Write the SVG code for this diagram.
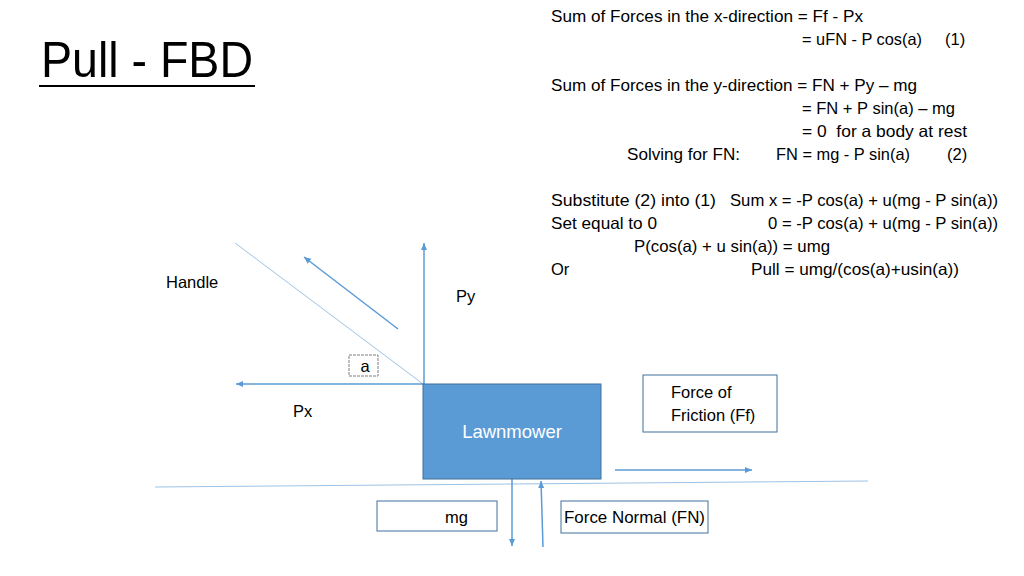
<svg xmlns="http://www.w3.org/2000/svg" width="1024" height="576" viewBox="0 0 1024 576">
<defs>
<marker id="ah" markerWidth="8" markerHeight="8" refX="7" refY="4" orient="auto" markerUnits="userSpaceOnUse">
<path d="M0,1 L7,4 L0,7 Z" fill="#5B9BD5"/>
</marker>
<style>
text{font-family:"Liberation Sans",Arial,sans-serif;fill:#000;font-size:16.5px}
.arrow{stroke:#5B9BD5;stroke-width:1.5;fill:none;marker-end:url(#ah)}
.thin{stroke:#9DC3E6;stroke-width:1;fill:none}
.box{fill:#fff;stroke:#41719C;stroke-width:1}
</style>
</defs>
<rect width="1024" height="576" fill="#fff"/>

<g id="title">
<text x="41" y="77" style="font-size:50px" textLength="212" lengthAdjust="spacingAndGlyphs">Pull - FBD</text>
<line x1="39" y1="86" x2="255" y2="86" stroke="#000" stroke-width="2"/>
</g>

<g id="equations">
<text x="551" y="22" textLength="312" lengthAdjust="spacingAndGlyphs">Sum of Forces in the x-direction = Ff - Px</text>
<text x="802" y="45" textLength="120" lengthAdjust="spacingAndGlyphs">= uFN - P cos(a)</text>
<text x="945" y="45">(1)</text>
<text x="551" y="91" textLength="366" lengthAdjust="spacingAndGlyphs">Sum of Forces in the y-direction = FN + Py – mg</text>
<text x="802" y="114" textLength="153" lengthAdjust="spacingAndGlyphs">= FN + P sin(a) – mg</text>
<text x="802" y="137" textLength="165" lengthAdjust="spacingAndGlyphs">= 0 &#160;for a body at rest</text>
<text x="627" y="160" textLength="113" lengthAdjust="spacingAndGlyphs">Solving for FN:</text>
<text x="776" y="160" textLength="134" lengthAdjust="spacingAndGlyphs">FN = mg - P sin(a)</text>
<text x="947" y="160">(2)</text>
<text x="551" y="206" textLength="165" lengthAdjust="spacingAndGlyphs">Substitute (2) into (1)</text>
<text x="730" y="206" textLength="268" lengthAdjust="spacingAndGlyphs">Sum x = -P cos(a) + u(mg - P sin(a))</text>
<text x="551" y="229" textLength="106" lengthAdjust="spacingAndGlyphs">Set equal to 0</text>
<text x="768" y="229" textLength="230" lengthAdjust="spacingAndGlyphs">0 = -P cos(a) + u(mg - P sin(a))</text>
<text x="634" y="252" textLength="196" lengthAdjust="spacingAndGlyphs">P(cos(a) + u sin(a)) = umg</text>
<text x="551" y="275">Or</text>
<text x="751" y="275" textLength="208" lengthAdjust="spacingAndGlyphs">Pull = umg/(cos(a)+usin(a))</text>
</g>

<g id="connectors">
<line id="handle-line" class="thin" x1="235" y1="243" x2="423" y2="384"/>
<line id="ground" class="thin" x1="155" y1="487" x2="868" y2="481"/>
<line id="pull-arrow" class="arrow" x1="398" y1="329" x2="304" y2="257"/>
<line id="py-arrow" class="arrow" x1="424" y1="384" x2="424" y2="243"/>
<line id="px-arrow" class="arrow" x1="424" y1="384" x2="236" y2="384"/>
<line id="ff-arrow" class="arrow" x1="615" y1="470" x2="752" y2="470"/>
<line id="mg-arrow" class="arrow" x1="512" y1="479" x2="512" y2="546"/>
<line id="fn-arrow" class="arrow" x1="543" y1="547" x2="541" y2="481"/>
</g>

<g id="handle-label"><text x="166" y="288">Handle</text></g>
<g id="py-label"><text x="456" y="302">Py</text></g>
<g id="px-label"><text x="293" y="417">Px</text></g>

<g id="angle-a">
<rect x="349" y="355" width="29" height="21" fill="#fff" stroke="#7F7F7F" stroke-width="1" stroke-dasharray="3,1"/>
<text x="365" y="372" text-anchor="middle">a</text>
</g>

<g id="lawnmower">
<rect x="423" y="384" width="178" height="95" fill="#5B9BD5" stroke="#41719C" stroke-width="1"/>
<text x="512" y="438" text-anchor="middle" style="fill:#fff;font-size:18.5px">Lawnmower</text>
</g>

<g id="friction-label">
<rect class="box" x="643" y="375" width="134" height="57"/>
<text x="671" y="398">Force of</text>
<text x="671" y="421">Friction (Ff)</text>
</g>

<g id="mg-label">
<rect class="box" x="377" y="501" width="120" height="30"/>
<text x="445" y="523">mg</text>
</g>

<g id="fn-label">
<rect class="box" x="561" y="501" width="147" height="32"/>
<text x="564" y="523" textLength="141" lengthAdjust="spacingAndGlyphs">Force Normal (FN)</text>
</g>
</svg>
